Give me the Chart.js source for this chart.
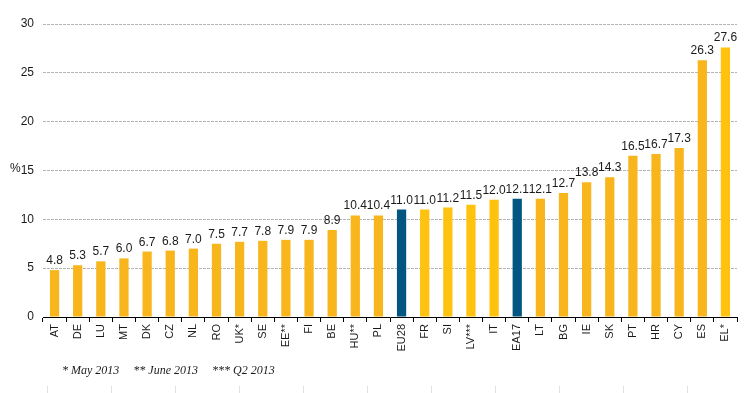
<!DOCTYPE html>
<html>
<head>
<meta charset="utf-8">
<script src="https://cdn.jsdelivr.net/npm/chart.js@4"></script>
<style>
html,body{margin:0;padding:0;background:#fff;}
#wrap{position:relative;width:748px;height:393px;}
</style>
</head>
<body>
<div id="wrap"><canvas id="c"></canvas></div>
<script>
const countries = ["AT","DE","LU","MT","DK","CZ","NL","RO","UK*","SE","EE**","FI","BE","HU**","PL","EU28","FR","SI","LV***","IT","EA17","LT","BG","IE","SK","PT","HR","CY","ES","EL*"];
const values = [4.8,5.3,5.7,6.0,6.7,6.8,7.0,7.5,7.7,7.8,7.9,7.9,8.9,10.4,10.4,11.0,11.0,11.2,11.5,12.0,12.1,12.1,12.7,13.8,14.3,16.5,16.7,17.3,26.3,27.6];
const aggregates = ["EU28","EA17"];
const yellowGroup = ["FR","SI","LV***","IT","EL*"];
const yMin = 0, yMax = 30, yStep = 5;
const yAxisLabel = "%";
const footnotes = ["* May 2013", "** June 2013", "*** Q2 2013"];

const ORANGE = "#F9B51C", YELLOW = "#FFC20E", BLUE = "#045682";
const barColors = countries.map(c => aggregates.includes(c) ? BLUE : (yellowGroup.includes(c) ? YELLOW : ORANGE));

const extras = {
  id: "extras",
  afterDatasetsDraw(chart) {
    const ctx = chart.ctx;
    const meta = chart.getDatasetMeta(0);
    ctx.save();
    ctx.font = "12px 'Liberation Sans', Arial, sans-serif";
    ctx.fillStyle = "#1a1a1a";
    ctx.textAlign = "center";
    ctx.textBaseline = "alphabetic";
    meta.data.forEach((bar, i) => {
      ctx.fillText(values[i].toFixed(1), bar.x, bar.y - 6);
    });
    ctx.restore();
  },
  afterDraw(chart) {
    const ctx = chart.ctx;
    const ys = chart.scales.y;
    ctx.save();
    ctx.font = "12px 'Liberation Sans', Arial, sans-serif";
    ctx.fillStyle = "#1a1a1a";
    ctx.textAlign = "left";
    ctx.textBaseline = "middle";
    ctx.fillText(yAxisLabel, 10, ys.getPixelForValue(15) - 2);
    ctx.font = "italic 12px 'Liberation Serif', 'Times New Roman', serif";
    ctx.textBaseline = "alphabetic";
    let x = 62;
    footnotes.forEach(t => {
      ctx.fillText(t, x, 374);
      x += ctx.measureText(t).width + 14;
    });
    ctx.strokeStyle = "#e0e0e0";
    ctx.lineWidth = 1;
    for (let tx = 47; tx < 748; tx += 64) {
      ctx.beginPath();
      ctx.moveTo(tx + 0.5, 386);
      ctx.lineTo(tx + 0.5, 393);
      ctx.stroke();
    }
    ctx.restore();
  }
};

new Chart(document.getElementById("c"), {
  type: "bar",
  data: {
    labels: countries,
    datasets: [{
      data: values,
      backgroundColor: barColors,
      borderWidth: 0,
      barPercentage: 0.4,
      categoryPercentage: 1.0
    }]
  },
  options: {
    responsive: true,
    maintainAspectRatio: false,
    animation: false,
    events: [],
    layout: { padding: { top: 24, right: 11, left: 0, bottom: 0 } },
    plugins: { legend: { display: false }, tooltip: { enabled: false } },
    scales: {
      x: {
        afterFit(s) { s.height = 76; },
        grid: { offset: true, drawOnChartArea: false, drawTicks: true, tickLength: 5, color: "#000" },
        border: { display: true, color: "#000", width: 1 },
        ticks: {
          autoSkip: false, maxRotation: 90, minRotation: 90, padding: 2,
          color: "#1a1a1a",
          font: { family: "'Liberation Sans', Arial, sans-serif", size: 11 }
        }
      },
      y: {
        min: yMin, max: yMax,
        afterFit(s) { s.width = 43; },
        grid: { drawTicks: false, color: (c) => c.tick.value === 0 ? "rgba(0,0,0,0)" : "#b3b3b3", lineWidth: 1 },
        border: { display: false, dash: [3, 1] },
        ticks: {
          stepSize: yStep, padding: 9, color: "#1a1a1a",
          font: { family: "'Liberation Sans', Arial, sans-serif", size: 12 }
        }
      }
    }
  },
  plugins: [extras]
});
</script>
</body>
</html>
